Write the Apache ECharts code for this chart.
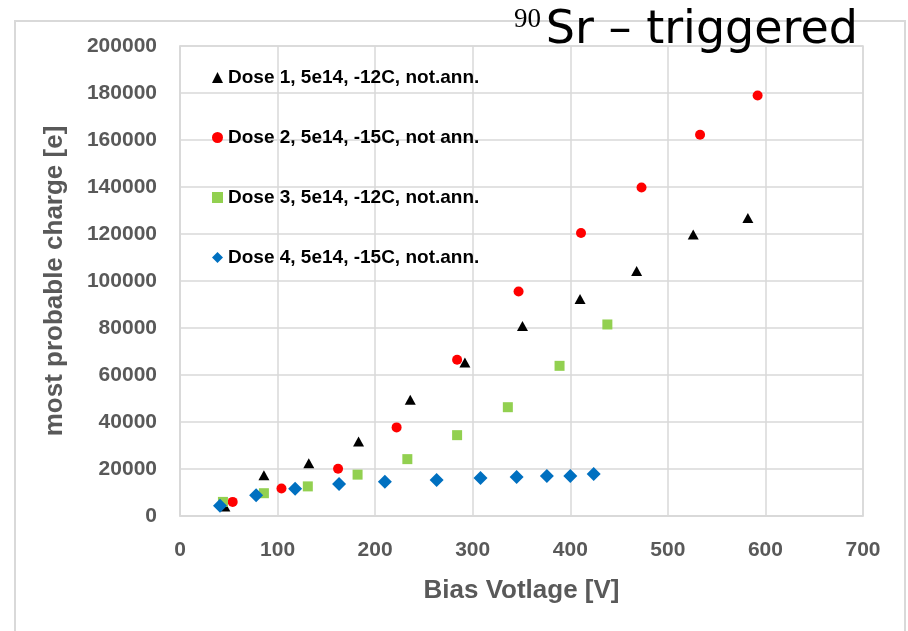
<!DOCTYPE html>
<html>
<head>
<meta charset="utf-8">
<script src="https://cdn.jsdelivr.net/npm/echarts@6/dist/echarts.min.js"></script>
<style>html,body{margin:0;padding:0;background:#fff;}#c{width:908px;height:631px;}</style>
</head>
<body>
<div id="c"></div>
<script>
// Data
const seriesNames = ['Dose 1, 5e14, -12C, not.ann.', 'Dose 2, 5e14, -15C, not ann.', 'Dose 3, 5e14, -12C, not.ann.', 'Dose 4, 5e14, -15C, not.ann.'];
const dose1V = [46, 86, 132, 183, 236, 292, 351, 410, 468, 526, 582];
const dose1Q = [4000, 17300, 22500, 31700, 49500, 65300, 80900, 92300, 104300, 119800, 126800];
const dose2V = [54, 104, 162, 222, 284, 347, 411, 473, 533, 592];
const dose2Q = [6000, 11700, 20100, 37700, 66500, 95500, 120400, 139800, 162200, 178900];
const dose3V = [44, 86, 131, 182, 233, 284, 336, 389, 438];
const dose3Q = [6000, 9700, 12600, 17600, 24200, 34400, 46300, 63900, 81500];
const dose4V = [41, 78, 118, 163, 210, 263, 308, 345, 376, 400, 424];
const dose4Q = [4400, 8800, 11600, 13600, 14600, 15300, 16200, 16600, 17000, 17000, 17900];
const xTicks = [0, 100, 200, 300, 400, 500, 600, 700];
const yTicks = [0, 20000, 40000, 60000, 80000, 100000, 120000, 140000, 160000, 180000, 200000];

const pair = (xs, ys) => xs.map((x, i) => [x, ys[i]]);
const grey = '#d9d9d9';
const labelColor = '#595959';
const chart = echarts.init(document.getElementById('c'), null, {renderer: 'canvas'});

const styles = [
  {symbol: 'triangle', size: [11, 10], color: '#000000'},
  {symbol: 'circle', size: 10, color: '#ff0000'},
  {symbol: 'rect', size: 10, color: '#92d050'},
  {symbol: 'diamond', size: 14, color: '#0070c0'}
];
const datasets = [pair(dose1V, dose1Q), pair(dose2V, dose2Q), pair(dose3V, dose3Q), pair(dose4V, dose4Q)];

chart.setOption({
  animation: false,
  backgroundColor: '#ffffff',
  textStyle: {fontFamily: 'Liberation Sans'},
  graphic: [
    {type: 'rect', shape: {x: 15, y: 21, width: 890, height: 640}, style: {fill: 'none', stroke: grey, lineWidth: 2}, z: -1},
    {type: 'text', x: 858, y: 31, style: {text: 'Sr \u2013 triggered', font: '46px "DejaVu Sans"', fill: '#000', align: 'right', verticalAlign: 'middle'}, z: 10},
    {type: 'text', x: 541, y: 20, style: {text: '90', font: '27px "Liberation Serif"', fill: '#000', align: 'right', verticalAlign: 'middle'}, z: 10}
  ],
  grid: {left: 180, right: 45, top: 46, bottom: 115, show: true, borderColor: grey, borderWidth: 1.5, backgroundColor: 'transparent'},
  legend: {
    orient: 'vertical', left: 207, top: 63, itemGap: 41, itemWidth: 11, itemHeight: 11,
    data: seriesNames.map((n, i) => ({name: n, icon: styles[i].symbol})),
    textStyle: {fontFamily: 'Liberation Sans', fontWeight: 'bold', fontSize: 19, color: '#000'}
  },
  xAxis: {
    type: 'value', min: xTicks[0], max: xTicks[xTicks.length - 1], interval: 100,
    name: 'Bias Votlage [V]', nameLocation: 'middle', nameGap: 62,
    nameTextStyle: {fontFamily: 'Liberation Sans', fontWeight: 'bold', fontSize: 26, color: labelColor},
    axisLine: {show: true, lineStyle: {color: grey, width: 1.5}},
    axisTick: {show: false},
    axisLabel: {fontFamily: 'Liberation Sans', fontWeight: 'bold', fontSize: 21, color: labelColor, margin: 24, formatter: v => String(v)},
    splitLine: {show: true, lineStyle: {color: grey, width: 1.5}}
  },
  yAxis: {
    type: 'value', min: yTicks[0], max: yTicks[yTicks.length - 1], interval: 20000,
    name: 'most probable charge [e]', nameLocation: 'middle', nameGap: 112, nameRotate: 90,
    nameTextStyle: {fontFamily: 'Liberation Sans', fontWeight: 'bold', fontSize: 26, color: labelColor},
    axisLine: {show: true, lineStyle: {color: grey, width: 1.5}},
    axisTick: {show: false},
    axisLabel: {fontFamily: 'Liberation Sans', fontWeight: 'bold', fontSize: 21, color: labelColor, margin: 23, formatter: v => String(v)},
    splitLine: {show: true, lineStyle: {color: grey, width: 1.5}}
  },
  series: datasets.map((d, i) => ({
    type: 'scatter', name: seriesNames[i], data: d,
    symbol: styles[i].symbol, symbolSize: styles[i].size,
    itemStyle: {color: styles[i].color, opacity: 1},
    z: 2 + i
  }))
});
</script>
</body>
</html>
